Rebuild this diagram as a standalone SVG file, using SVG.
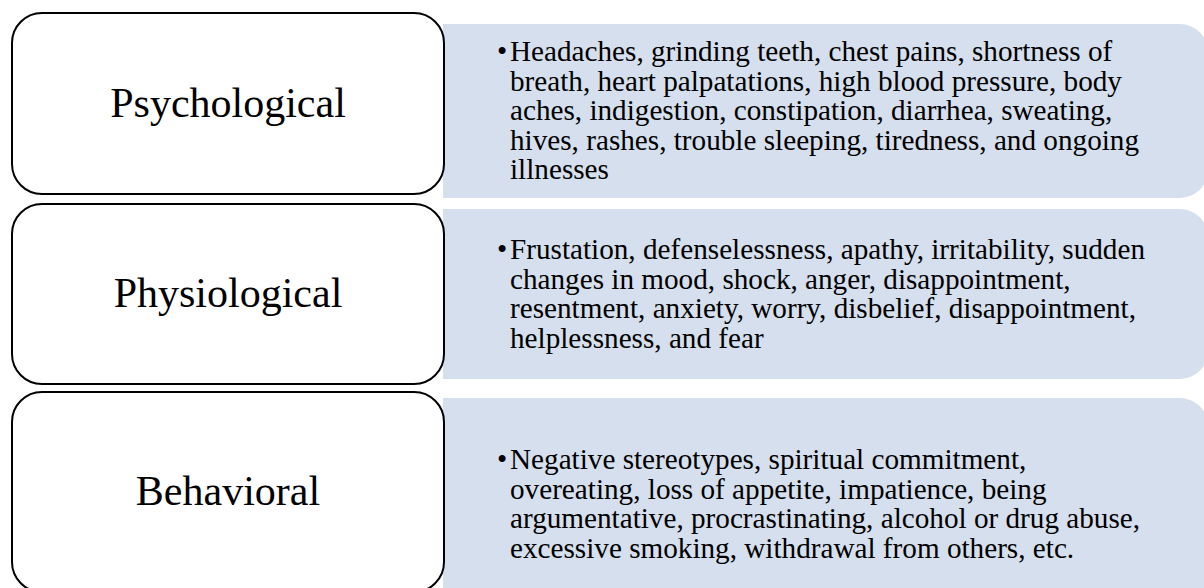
<svg xmlns="http://www.w3.org/2000/svg" width="1204" height="588" viewBox="0 0 1204 588">
<style>
.panel{fill:#D5DFED;stroke:none}
.node{fill:#FFFFFF;stroke:#000000;stroke-width:2}
.lbl{font-family:"Liberation Serif","Times New Roman",serif;font-size:42px;fill:#000;text-anchor:middle}
.txt{font-family:"Liberation Serif","Times New Roman",serif;font-size:29.2px;fill:#000}
</style>
<rect x="0" y="0" width="1204" height="588" fill="#FFFFFF"/>
<g id="panel-1">
<rect class="panel" x="443" y="24" width="765" height="174" rx="28" ry="28"/>
<rect class="panel" x="443" y="24" width="40" height="174"/>
<text class="txt"><tspan x="497" y="61">•</tspan><tspan x="510" y="61">Headaches, grinding teeth, chest pains, shortness of</tspan><tspan x="510" y="90.5">breath, heart palpatations, high blood pressure, body</tspan><tspan x="510" y="120">aches, indigestion, constipation, diarrhea, sweating,</tspan><tspan x="510" y="149.5">hives, rashes, trouble sleeping, tiredness, and ongoing</tspan><tspan x="510" y="179">illnesses</tspan></text>
</g>
<g id="panel-2">
<rect class="panel" x="443" y="209" width="765" height="170" rx="28" ry="28"/>
<rect class="panel" x="443" y="209" width="40" height="170"/>
<text class="txt"><tspan x="497" y="259">•</tspan><tspan x="510" y="259">Frustation, defenselessness, apathy, irritability, sudden</tspan><tspan x="510" y="288.5">changes in mood, shock, anger, disappointment,</tspan><tspan x="510" y="318">resentment, anxiety, worry, disbelief, disappointment,</tspan><tspan x="510" y="347.5">helplessness, and fear</tspan></text>
</g>
<g id="panel-3">
<rect class="panel" x="443" y="398" width="765" height="205" rx="28" ry="28"/>
<rect class="panel" x="443" y="398" width="40" height="205"/>
<text class="txt"><tspan x="497" y="469">•</tspan><tspan x="510" y="469">Negative stereotypes, spiritual commitment,</tspan><tspan x="510" y="498.5">overeating, loss of appetite, impatience, being</tspan><tspan x="510" y="528">argumentative, procrastinating, alcohol or drug abuse,</tspan><tspan x="510" y="557.5">excessive smoking, withdrawal from others, etc.</tspan></text>
</g>
<g id="node-psychological">
<rect class="node" x="12" y="13" width="432" height="181" rx="30" ry="30"/>
<text class="lbl" x="228" y="117">Psychological</text>
</g>
<g id="node-physiological">
<rect class="node" x="12" y="204" width="432" height="180" rx="30" ry="30"/>
<text class="lbl" x="228" y="307">Physiological</text>
</g>
<g id="node-behavioral">
<rect class="node" x="12" y="392" width="432" height="200" rx="30" ry="30"/>
<text class="lbl" x="228" y="505">Behavioral</text>
</g>
<g id="connectors"></g>
</svg>
